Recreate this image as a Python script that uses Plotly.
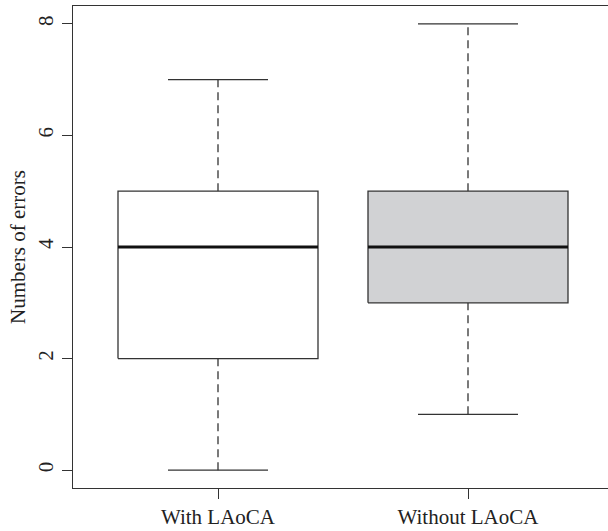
import plotly.graph_objects as go

# Summary statistics for the error counts of each group
groups = ["With LAoCA", "Without LAoCA"]
whisker_low = [0, 1]
q1 = [2, 3]
median = [4, 4]
q3 = [5, 5]
whisker_high = [7, 8]
box_fill = ["#ffffff", "#d1d2d4"]
y_ticks = [0, 2, 4, 6, 8]

LINE = "#333333"
FONT = "Liberation Serif"
HALF_BOX = 0.4      # box width 0.8 in axis units
HALF_CAP = 0.2      # staple width half of the box

fig = go.Figure()

for i, name in enumerate(groups):
    p = i + 1
    # dashed whiskers
    for a, b in ((q3[i], whisker_high[i]), (whisker_low[i], q1[i])):
        fig.add_trace(go.Scatter(
            x=[p, p], y=[a, b], mode="lines",
            line=dict(color=LINE, width=1.3, dash="8px,5px"),
            hoverinfo="skip", showlegend=False))
    # staples
    for v in (whisker_high[i], whisker_low[i]):
        fig.add_trace(go.Scatter(
            x=[p - HALF_CAP, p + HALF_CAP], y=[v, v], mode="lines",
            line=dict(color=LINE, width=1.3),
            hoverinfo="skip", showlegend=False))
    # box
    fig.add_trace(go.Scatter(
        x=[p - HALF_BOX, p + HALF_BOX, p + HALF_BOX, p - HALF_BOX, p - HALF_BOX],
        y=[q1[i], q1[i], q3[i], q3[i], q1[i]],
        mode="lines", fill="toself", fillcolor=box_fill[i],
        line=dict(color=LINE, width=1.3),
        hoverinfo="skip", showlegend=False))
    # median
    fig.add_trace(go.Scatter(
        x=[p - HALF_BOX, p + HALF_BOX], y=[median[i], median[i]], mode="lines",
        line=dict(color="#111111", width=3),
        hoverinfo="skip", showlegend=False))

fig.update_layout(
    width=608, height=531,
    margin=dict(l=73, r=0, t=6, b=43),
    paper_bgcolor="white", plot_bgcolor="white",
    font=dict(family=FONT, size=21, color="#222222"),
    xaxis=dict(
        range=[0.42, 0.42 + 535 / 250],
        tickmode="array", tickvals=[1, 2], ticktext=groups,
        ticks="outside", ticklen=10, tickwidth=1.3, tickcolor=LINE,
        showline=True, linecolor=LINE, linewidth=1.3, mirror=True,
        showgrid=False, zeroline=False,
        tickfont=dict(family=FONT, size=21, color="#222222"),
    ),
    yaxis=dict(
        range=[-0.32, 8.32],
        tickmode="array", tickvals=y_ticks, ticktext=[str(t) for t in y_ticks],
        tickangle=-90,
        ticks="outside", ticklen=10, tickwidth=1.3, tickcolor=LINE,
        showline=True, linecolor=LINE, linewidth=1.3, mirror=False,
        showgrid=False, zeroline=False,
        tickfont=dict(family=FONT, size=21, color="#222222"),
        title=dict(text="Numbers of errors", standoff=3,
                   font=dict(family=FONT, size=21, color="#222222")),
    ),
)

fig.write_html("out.html")
